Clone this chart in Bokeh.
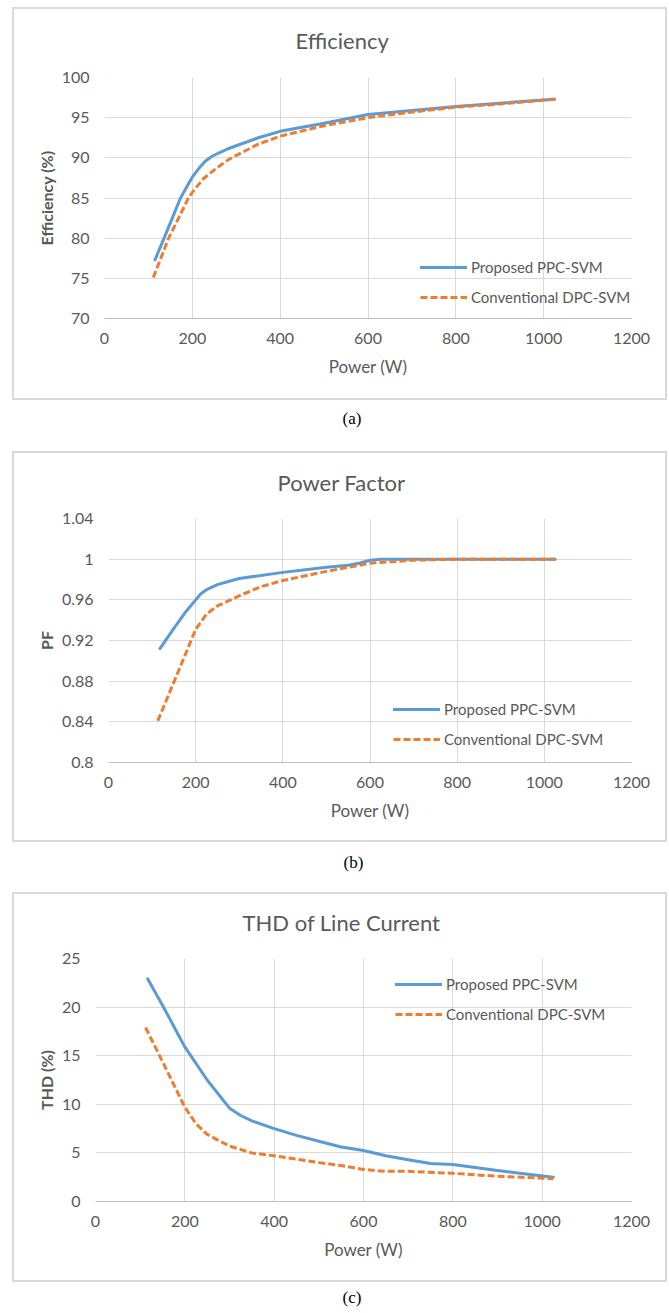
from bokeh.plotting import figure
from bokeh.models import (Range1d, FixedTicker, NumeralTickFormatter, Title,
                          Legend, LegendItem, InlineStyleSheet)
from bokeh.embed import file_html
from bokeh.resources import INLINE

# ---------------- data ----------------
x_ticks = [0, 200, 400, 600, 800, 1000, 1200]
series_names = ["Proposed PPC-SVM", "Conventional DPC-SVM"]

# (a) Efficiency
eff_power_ppc = [115, 150, 173, 200, 215, 230, 245, 260, 280, 300, 350, 400, 500, 600, 700, 800, 900, 1025]
eff_ppc = [77.3, 81.9, 85.0, 87.6, 88.7, 89.6, 90.2, 90.6, 91.1, 91.5, 92.5, 93.3, 94.3, 95.4, 95.9, 96.4, 96.8, 97.3]
eff_power_dpc = [111, 146, 175, 191, 200, 225, 250, 265, 283, 300, 350, 400, 500, 600, 700, 800, 900, 1025]
eff_dpc = [75.1, 80.0, 83.2, 85.0, 85.7, 87.4, 88.5, 89.1, 89.8, 90.3, 91.7, 92.7, 94.0, 95.0, 95.7, 96.3, 96.7, 97.3]
eff_ticks = [70, 75, 80, 85, 90, 95, 100]

# (b) Power factor
pf_power_ppc = [118, 150, 175, 200, 212, 225, 250, 275, 300, 400, 500, 550, 575, 600, 625, 650, 800, 1025]
pf_ppc = [0.912, 0.932, 0.947, 0.960, 0.966, 0.970, 0.975, 0.978, 0.981, 0.987, 0.992, 0.994, 0.996, 0.999, 1.0, 1.0, 1.0, 1.0]
pf_power_dpc = [113, 150, 175, 200, 225, 250, 275, 300, 350, 400, 500, 600, 700, 800, 1025]
pf_dpc = [0.841, 0.879, 0.905, 0.931, 0.946, 0.954, 0.959, 0.964, 0.973, 0.979, 0.988, 0.996, 0.999, 1.0, 1.0]
pf_ticks = [0.8, 0.84, 0.88, 0.92, 0.96, 1.0, 1.04]

# (c) THD of line current
thd_power_ppc = [117, 150, 200, 250, 300, 325, 350, 400, 450, 500, 550, 600, 650, 700, 750, 800, 850, 900, 950, 1025]
thd_ppc = [22.9, 20.2, 15.9, 12.5, 9.6, 8.85, 8.3, 7.5, 6.8, 6.2, 5.6, 5.25, 4.7, 4.3, 3.9, 3.8, 3.5, 3.2, 2.9, 2.5]
thd_power_dpc = [112, 150, 200, 225, 250, 300, 350, 400, 500, 550, 600, 650, 700, 800, 900, 1025]
thd_dpc = [17.9, 14.4, 9.7, 8.0, 6.9, 5.7, 5.0, 4.7, 4.0, 3.7, 3.3, 3.1, 3.1, 2.9, 2.6, 2.35]
thd_ticks = [0, 5, 10, 15, 20, 25]

# ---------------- style ----------------
BLUE = "#5B9BD5"
ORANGE = "#ED7D31"
GRID = "#d9d9d9"
TEXT = "#595959"
FONT = "Lato"
W = 669


def make_panel(height, frame_left, frame_top, frame_bottom, y_range, y_ticks, y_label,
               title, caption, title_offset, title_standoff, caption_offset, caption_standoff,
               box_top, box_bottom, xs_a, ys_a, xs_b, ys_b, legend_xy, y_format=None):
    box_css = (":host::after { content: ''; position: absolute; pointer-events: none; "
               "left: 12px; top: %dpx; width: 651px; height: %dpx; "
               "border: 2px solid %s; box-sizing: content-box; }"
               % (box_top, box_bottom - box_top - 4, GRID))
    p = figure(width=W, height=height, x_range=Range1d(0, 1200), y_range=Range1d(*y_range),
               output_backend="svg", toolbar_location=None,
               min_border_left=frame_left, min_border_right=W - 631,
               min_border_top=frame_top, min_border_bottom=height - frame_bottom,
               stylesheets=[InlineStyleSheet(css=box_css)])
    p.title.text = title
    p.title.align = "left"
    p.title.offset = title_offset
    p.title.text_font = FONT
    p.title.text_font_size = "22px"
    p.title.text_font_style = "normal"
    p.title.text_color = TEXT
    p.title.standoff = title_standoff

    p.outline_line_color = None
    p.background_fill_color = "white"
    p.border_fill_color = "white"

    p.xaxis.ticker = FixedTicker(ticks=x_ticks)
    p.yaxis.ticker = FixedTicker(ticks=y_ticks)
    if y_format:
        p.yaxis.formatter = NumeralTickFormatter(format=y_format)
    p.xgrid.ticker = FixedTicker(ticks=x_ticks)
    p.ygrid.ticker = FixedTicker(ticks=y_ticks)
    p.grid.grid_line_color = GRID
    p.grid.grid_line_width = 1

    for ax in (p.xaxis, p.yaxis):
        ax.major_tick_line_color = None
        ax.minor_tick_line_color = None
        ax.major_tick_out = 0
        ax.major_tick_in = 0
        ax.major_label_text_font = FONT
        ax.major_label_text_font_size = "16px"
        ax.major_label_text_color = TEXT
        ax.axis_label_text_font = FONT
        ax.axis_label_text_color = TEXT
    p.yaxis.axis_line_color = None
    p.xaxis.axis_line_color = "#bfbfbf"
    p.xaxis.major_label_standoff = 14
    p.yaxis.major_label_standoff = 15
    p.xaxis.axis_label = "Power (W)"
    p.xaxis.axis_label_text_font_size = "17px"
    p.xaxis.axis_label_text_font_style = "normal"
    p.xaxis.axis_label_standoff = 9
    p.yaxis.axis_label = y_label
    p.yaxis.axis_label_text_font_size = "16px"
    p.yaxis.axis_label_text_font_style = "bold"
    p.yaxis.axis_label_standoff = 3

    r1 = p.line(xs_a, ys_a, line_color=BLUE, line_width=3, line_join="round", line_cap="round")
    r2 = p.line(xs_b, ys_b, line_color=ORANGE, line_width=3, line_dash="7 3", line_join="round")

    legend = Legend(items=[LegendItem(label=series_names[0], renderers=[r1]),
                           LegendItem(label=series_names[1], renderers=[r2])],
                    location=legend_xy, orientation="vertical",
                    border_line_color=None, background_fill_alpha=0,
                    padding=0, margin=0, spacing=10,
                    glyph_width=47, glyph_height=20, label_height=20,
                    label_standoff=4, label_text_font=FONT,
                    label_text_font_size="15px", label_text_color=TEXT)
    p.add_layout(legend, "center")

    cap = Title(text="\n" + caption, align="left", offset=caption_offset,
                text_font="Liberation Serif", text_font_size="17px",
                text_font_style="normal", text_color="black", standoff=caption_standoff)
    p.add_layout(cap, "below")
    return p


pa = make_panel(440, 104, 77, 318, (70, 100), eff_ticks, "Efficiency (%)", "Efficiency", "(a)",
                191, 48, 238, 16, 7, 400, eff_power_ppc, eff_ppc, eff_power_dpc, eff_dpc, (316, 11))
pb = make_panel(440, 108, 78, 322, (0.8, 1.04), pf_ticks, "PF", "Power Factor", "(b)",
                169, 46, 235, 16, 11, 402, pf_power_ppc, pf_ppc, pf_power_dpc, pf_dpc, (285, 13),
                y_format="0.[00]")
pc = make_panel(433, 95, 78, 321, (0, 25), thd_ticks, "THD (%)", "THD of Line Current", "(c)",
                147, 46, 247, 8, 12, 402, thd_power_ppc, thd_ppc, thd_power_dpc, thd_dpc, (300, 177))

open("out.html", "w").write(file_html([pa, pb, pc], INLINE))
